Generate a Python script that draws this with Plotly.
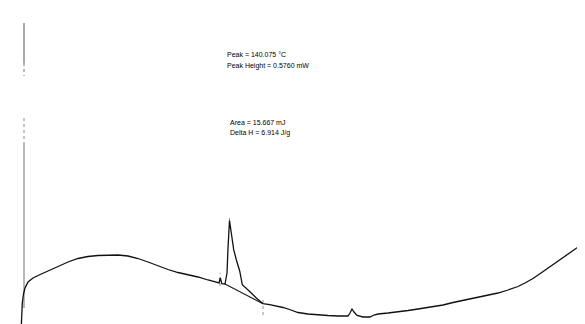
import plotly.graph_objects as go

# DSC trace: temperature (°C) vs heat flow (mW)
temp_c = [36.65, 36.9, 37.15, 37.75, 38.5, 40, 42.5, 45, 50, 55, 60, 65, 70, 75, 80, 85, 90, 95,
          100, 105, 110, 115, 120, 125, 130, 134, 135.5, 136.15, 136.9, 138.5, 139.5, 140, 140.75,
          141.65, 142.85, 144.15, 145.85, 147.15, 149.15, 151.65, 154.15, 156.65, 157.5, 160.85,
          164, 167.5, 171.5, 175, 180, 185, 190, 195, 200, 201, 202, 203, 204.5, 207.5, 211, 213,
          215, 220, 225, 230, 235, 241.5, 247.5, 252.5, 258.5, 265, 270, 275, 280, 285, 288.5,
          292.5, 296.5, 300, 304, 308.5, 312.5, 316.5, 319, 321.5]
heat_flow_mw = [0.12, 0.25, 0.35, 0.44, 0.50, 0.56, 0.60, 0.625, 0.67, 0.715, 0.76, 0.795, 0.815,
                0.825, 0.83, 0.83, 0.82, 0.795, 0.76, 0.72, 0.685, 0.655, 0.635, 0.61, 0.58, 0.56,
                0.55, 0.60, 0.543, 0.54, 0.65, 0.90, 1.175, 1.05, 0.883, 0.783, 0.67, 0.533, 0.50,
                0.45, 0.40, 0.357, 0.343, 0.333, 0.32, 0.305, 0.28, 0.255, 0.24, 0.23, 0.225, 0.22,
                0.22, 0.25, 0.29, 0.26, 0.225, 0.21, 0.21, 0.23, 0.24, 0.25, 0.26, 0.275, 0.29,
                0.31, 0.33, 0.355, 0.38, 0.405, 0.425, 0.45, 0.48, 0.515, 0.55, 0.595, 0.65, 0.70,
                0.76, 0.82, 0.88, 0.93, 0.96, 0.975]

# integration baseline under the melting peak
baseline_temp = [138.5, 157.5]
baseline_hf = [0.54, 0.343]

# vertical heat-flow axis line (scanned, broken)
axis_temp = 38.0
axis_solid_top = [3.15, 2.75]
axis_dash_top = [2.75, 2.62]
axis_dash_mid = [2.20, 1.95]
axis_solid_low = [1.95, 0.30]

# small markers at onset / peak / end
mark_temps = [136.0, 140.75, 157.5]
mark_ranges = [[0.52, 0.65], [1.17, 1.21], [0.23, 0.40]]

# result text lines: (text, left x in px, centre y in px)
result_lines = ["Peak = 140.075 °C", "Peak Height = 0.5760 mW", "Area = 15.667 mJ", "Delta H = 6.914 J/g"]
result_left_px = [218, 218, 221, 221]
result_mid_px = [47, 58, 114, 125]

fig = go.Figure()

fig.add_trace(go.Scatter(x=[axis_temp, axis_temp], y=axis_solid_top, mode="lines",
                         line=dict(color="#555555", width=1), hoverinfo="skip"))
fig.add_trace(go.Scatter(x=[axis_temp, axis_temp], y=axis_dash_top, mode="lines",
                         line=dict(color="#777777", width=1, dash="dot"), hoverinfo="skip"))
fig.add_trace(go.Scatter(x=[axis_temp, axis_temp], y=axis_dash_mid, mode="lines",
                         line=dict(color="#888888", width=1, dash="dot"), hoverinfo="skip"))
fig.add_trace(go.Scatter(x=[axis_temp, axis_temp], y=axis_solid_low, mode="lines",
                         line=dict(color="#a0a0a0", width=1.5), hoverinfo="skip"))

for t, r in zip(mark_temps, mark_ranges):
    fig.add_trace(go.Scatter(x=[t, t], y=r, mode="lines",
                             line=dict(color="#777777", width=0.8, dash="dot"), hoverinfo="skip"))

fig.add_trace(go.Scatter(x=baseline_temp, y=baseline_hf, mode="lines",
                         line=dict(color="#1a1a1a", width=1.1), hoverinfo="skip"))
fig.add_trace(go.Scatter(x=temp_c, y=heat_flow_mw, mode="lines",
                         line=dict(color="#111111", width=1.3), hoverinfo="skip"))

font = dict(family="Liberation Sans, Arial, sans-serif", size=7, color="#000000")
for txt, lx, my in zip(result_lines, result_left_px, result_mid_px):
    fig.add_annotation(x=lx / 585, y=1 - my / 324, xref="paper", yref="paper", xanchor="left",
                       yanchor="middle", align="left", showarrow=False, font=font, text=txt,
                       borderpad=0)

fig.update_layout(
    width=585, height=324,
    margin=dict(l=0, r=0, t=0, b=0),
    paper_bgcolor="white", plot_bgcolor="white",
    showlegend=False,
    xaxis=dict(range=[30, 322.5], visible=False, fixedrange=True),
    yaxis=dict(range=[0.06, 3.30], visible=False, fixedrange=True),
)

fig.write_html("out.html")
